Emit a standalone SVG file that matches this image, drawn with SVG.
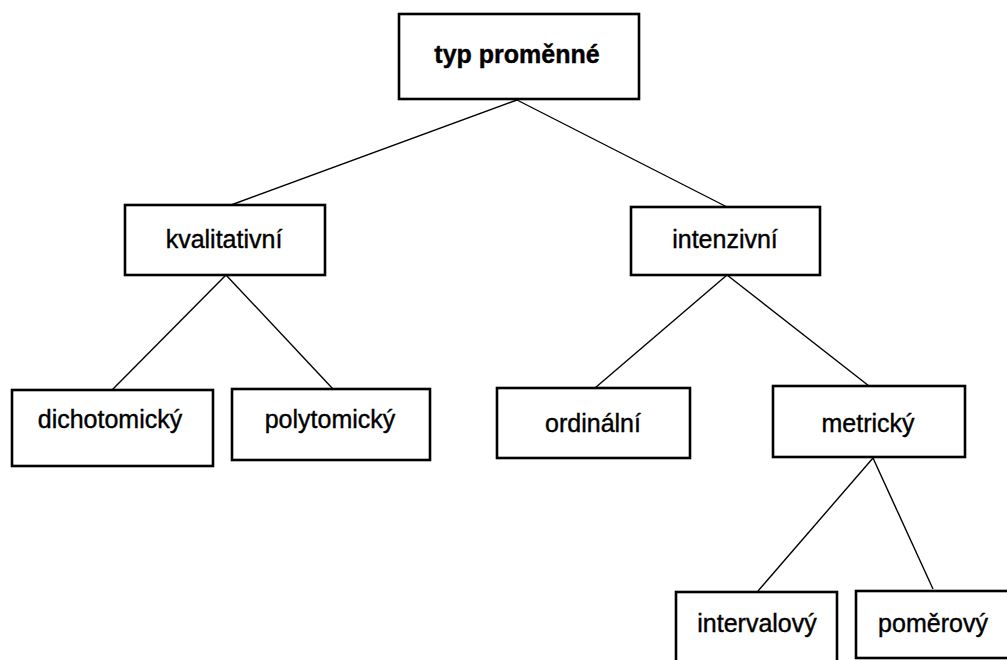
<svg xmlns="http://www.w3.org/2000/svg" width="1007" height="660" viewBox="0 0 1007 660">
<style>
.box{fill:#fff;stroke:#000;stroke-width:2.6}
.t{font-family:"Liberation Sans",Arial,sans-serif;font-size:25px;fill:#000;stroke:#000;stroke-width:0.4;text-anchor:middle}
.b{font-weight:bold}
.c line{stroke:#000;stroke-width:1.4}
</style>
<rect width="1007" height="660" fill="#fff"/>
<g class="c" id="connectors">
<line x1="517" y1="100" x2="231" y2="205"/>
<line x1="517" y1="100" x2="727" y2="207"/>
<line x1="226" y1="275" x2="112" y2="390"/>
<line x1="226" y1="275" x2="333" y2="389"/>
<line x1="727" y1="275" x2="595" y2="388"/>
<line x1="727" y1="275" x2="869" y2="386"/>
<line x1="873" y1="458" x2="758" y2="591"/>
<line x1="873" y1="458" x2="933" y2="589"/>
</g>
<g id="n-root"><rect class="box" x="399" y="14" width="240" height="85"/><text class="t b" x="517" y="63">typ proměnné</text></g>
<g id="n-kval"><rect class="box" x="125" y="205" width="200" height="70"/><text class="t" x="224" y="248">kvalitativní</text></g>
<g id="n-int"><rect class="box" x="631" y="207" width="189" height="68"/><text class="t" x="725" y="248">intenzivní</text></g>
<g id="n-dich"><rect class="box" x="12" y="390" width="201" height="76"/><text class="t" x="110" y="428">dichotomický</text></g>
<g id="n-poly"><rect class="box" x="232" y="389" width="198" height="71"/><text class="t" x="330" y="428">polytomický</text></g>
<g id="n-ord"><rect class="box" x="497" y="388" width="193" height="70"/><text class="t" x="593" y="432">ordinální</text></g>
<g id="n-met"><rect class="box" x="773" y="386" width="192" height="71"/><text class="t" x="868" y="432">metrický</text></g>
<g id="n-intv"><rect class="box" x="676" y="592" width="161" height="80"/><text class="t" x="757" y="632">intervalový</text></g>
<g id="n-pom"><rect class="box" x="856" y="591" width="160" height="67"/><text class="t" x="933" y="632">poměrový</text></g>
</svg>
